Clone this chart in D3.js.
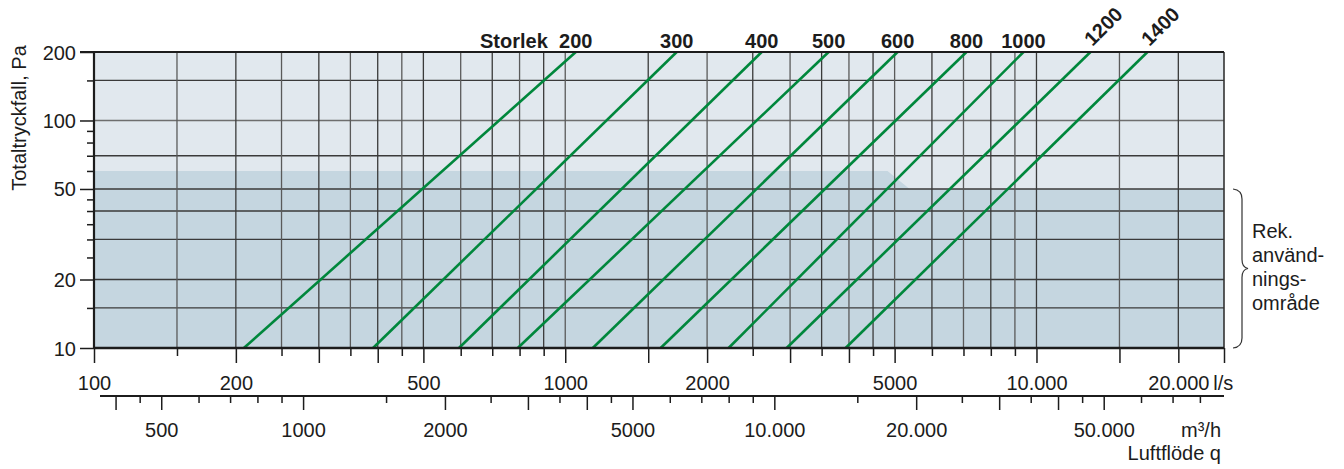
<!DOCTYPE html>
<html>
<head>
<meta charset="utf-8">
<script src="https://cdn.jsdelivr.net/npm/d3@7"></script>
<style>
  html, body { margin: 0; padding: 0; background: #fff; }
  svg { display: block; font-family: "Liberation Sans", Arial, Helvetica, sans-serif; }
  .tick text { font-family: "Liberation Sans", Arial, Helvetica, sans-serif; }
</style>
</head>
<body>
<svg id="chart" width="1344" height="469"></svg>
<script>
// ---- data ----
const sizes = [200, 300, 400, 500, 600, 800, 1000, 1200, 1400];
const flowAt10Pa = [208, 391, 595, 793, 1144, 1594, 2222, 2950, 3935];      // l/s
const flowAt200Pa = [1053, 1724, 2612, 3622, 5073, 7104, 9385, 13020, 17200]; // l/s

const pressureLabelTicks = [200, 100, 50, 20, 10];
const pressureMinorTicks = [150, 90, 80, 70, 60, 45, 40, 35, 30, 25, 15];
const pressureGrid = [150, 100, 70, 50, 40, 30, 20, 15];

const flowGrid = [150, 200, 250, 300, 350, 400, 450, 500, 600, 700, 800, 900, 1000,
  1500, 2000, 2500, 3000, 3500, 4000, 4500, 5000, 6000, 7000, 8000, 9000, 10000, 15000, 20000];
const lsMajorTicks = [100, 200, 300, 400, 500, 1000, 1500, 2000, 3000, 4000, 5000, 10000, 15000, 20000, 25000];
const lsMinorTicks = [150, 250, 350, 450, 600, 700, 800, 900, 2500, 3500, 4500, 6000, 7000, 8000, 9000];
const lsLabels = [100, 200, 500, 1000, 2000, 5000, 10000, 20000];

const m3hMajorTicks = [400, 500, 1000, 2000, 3000, 4000, 5000, 10000, 20000, 30000, 40000, 50000];
const m3hMinorTicks = [450, 600, 700, 800, 900, 1500, 2500, 3500, 4500, 6000, 7000, 8000, 9000,
  15000, 25000, 35000, 45000, 60000, 70000, 80000];
const m3hLabels = [500, 1000, 2000, 5000, 10000, 20000, 50000];

// recommended area boundary [flow l/s, pressure Pa]
const recommendedArea = [[100, 10], [100, 60], [4830, 60], [5380, 50], [25000, 50], [25000, 10]];
const recommendedText = ["Rek.", "använd-", "nings-", "område"];

// ---- scales ----
const x = d3.scaleLog().domain([100, 25000]).range([94, 1224]);
const y = d3.scaleLog().domain([10, 200]).range([348, 52]);
const xm = v => x(v / 3.6);
const [X0, X1] = x.range();
const [Y0, Y1] = y.range();

const fmt = v => v >= 10000 ? d3.format(",")(v).replace(/,/g, ".") : String(v);
const ink = "#1c1c1c";

const svg = d3.select("#chart");

// backgrounds
svg.append("rect").attr("x", X0).attr("y", Y1).attr("width", X1 - X0).attr("height", Y0 - Y1)
  .attr("fill", "#e1e8ee");
svg.append("path")
  .attr("d", d3.line().x(d => x(d[0])).y(d => y(d[1]))(recommendedArea) + "Z")
  .attr("fill", "#c5d6e0");

// grid
svg.append("g").selectAll("line").data(pressureGrid).join("line")
  .attr("x1", X0).attr("x2", X1).attr("y1", d => y(d)).attr("y2", d => y(d))
  .attr("stroke", d => d === 100 ? "#6e6e6e" : "#3a3a3a").attr("stroke-width", 1.3);
svg.append("g").selectAll("line").data(flowGrid).join("line")
  .attr("x1", d => x(d)).attr("x2", d => x(d)).attr("y1", Y1).attr("y2", Y0)
  .attr("stroke", (d, i) => i % 2 ? "#3a3a3a" : "#5a5a5a").attr("stroke-width", 1.3);

// size lines
svg.append("g").selectAll("line").data(sizes).join("line")
  .attr("x1", (d, i) => x(flowAt10Pa[i])).attr("y1", y(10))
  .attr("x2", (d, i) => x(flowAt200Pa[i])).attr("y2", y(200))
  .attr("stroke", "#00873c").attr("stroke-width", 2.6);

// frame
svg.append("line").attr("x1", X1).attr("x2", X1).attr("y1", Y1).attr("y2", Y0)
  .attr("stroke", "#333").attr("stroke-width", 1.6);
svg.append("line").attr("x1", X0 - 14).attr("x2", X1).attr("y1", Y1).attr("y2", Y1)
  .attr("stroke", ink).attr("stroke-width", 2.2);
svg.append("line").attr("x1", X0).attr("x2", X0).attr("y1", Y1).attr("y2", Y0)
  .attr("stroke", ink).attr("stroke-width", 2.2);

function styleAxis(g) {
  g.select(".domain").remove();
  g.selectAll(".tick line").attr("stroke", ink).attr("stroke-width", 1.5);
  g.selectAll(".tick text").attr("fill", ink).attr("font-size", 20);
}

// left axis
const gLeftMinor = svg.append("g").attr("transform", `translate(${X0},0)`)
  .call(d3.axisLeft(y).tickValues(pressureMinorTicks).tickSize(7).tickFormat(""));
styleAxis(gLeftMinor);
const gLeft = svg.append("g").attr("transform", `translate(${X0},0)`)
  .call(d3.axisLeft(y).tickValues(pressureLabelTicks).tickSize(14).tickPadding(4).tickFormat(d => String(d)));
styleAxis(gLeft);
gLeft.selectAll(".tick text").attr("x", -18).attr("dy", "0.35em");

// l/s axis
const gLsMinor = svg.append("g").attr("transform", `translate(0,${Y0})`)
  .call(d3.axisBottom(x).tickValues(lsMinorTicks).tickSize(8).tickFormat(""));
styleAxis(gLsMinor);
const gLs = svg.append("g").attr("transform", `translate(0,${Y0})`)
  .call(d3.axisBottom(x).tickValues(lsMajorTicks).tickSize(15)
    .tickFormat(d => lsLabels.includes(d) ? fmt(d) : ""));
styleAxis(gLs);
gLs.selectAll(".tick text").attr("y", 42).attr("dy", 0);
svg.append("line").attr("x1", X0).attr("x2", X1).attr("y1", Y0).attr("y2", Y0)
  .attr("stroke", ink).attr("stroke-width", 2.6);
svg.append("text").attr("x", x(20000) + 35).attr("y", Y0 + 42).attr("font-size", 20)
  .attr("fill", ink).text("l/s");

// m3/h axis
const M0 = 396;
svg.append("line").attr("x1", 100).attr("x2", X1).attr("y1", M0).attr("y2", M0)
  .attr("stroke", ink).attr("stroke-width", 1.8);
const xmScale = d3.scaleLog().domain([x.invert(100) * 3.6, 25000 * 3.6]).range([100, X1]);
const gMMinor = svg.append("g").attr("transform", `translate(0,${M0})`)
  .call(d3.axisBottom(xmScale).tickValues(m3hMinorTicks).tickSize(7).tickFormat(""));
styleAxis(gMMinor);
const gM = svg.append("g").attr("transform", `translate(0,${M0})`)
  .call(d3.axisBottom(xmScale).tickValues(m3hMajorTicks).tickSize(14)
    .tickFormat(d => m3hLabels.includes(d) ? fmt(d) : ""));
styleAxis(gM);
gM.selectAll(".tick text").attr("y", 41).attr("dy", 0);
svg.append("text").attr("x", 1221).attr("y", M0 + 41).attr("font-size", 20)
  .attr("text-anchor", "end").attr("fill", ink).text("m³/h");
svg.append("text").attr("x", 1221).attr("y", 460).attr("font-size", 20)
  .attr("text-anchor", "end").attr("fill", ink).text("Luftflöde q");

// y title
svg.append("text").attr("transform", "translate(26,118) rotate(-90)")
  .attr("text-anchor", "middle").attr("font-size", 20).attr("fill", ink)
  .text("Totaltryckfall, Pa");

// size labels
svg.append("text").attr("x", 480).attr("y", 48).attr("font-size", 20).attr("font-weight", "bold")
  .attr("fill", ink).text("Storlek");
svg.append("g").selectAll("text").data(sizes).join("text")
  .attr("font-size", 20).attr("font-weight", "bold").attr("fill", ink)
  .attr("text-anchor", d => d >= 1200 ? "start" : "middle")
  .attr("transform", (d, i) => {
    const px = x(flowAt200Pa[i]);
    return d >= 1200 ? `translate(${px + 2},47) rotate(-45)` : `translate(${px},48)`;
  })
  .text(d => d);

// bracket
const b0 = y(50), b1 = y(10), bm = (b0 + b1) / 2;
svg.append("path")
  .attr("d", `M1233,${b0} Q1242,${b0 + 1} 1242,${b0 + 10} L1242,${bm - 9} Q1242,${bm - 1} 1248,${bm}
              Q1242,${bm + 1} 1242,${bm + 9} L1242,${b1 - 10} Q1242,${b1 - 1} 1233,${b1}`)
  .attr("fill", "none").attr("stroke", "#333").attr("stroke-width", 1.2);
svg.append("g").selectAll("text").data(recommendedText).join("text")
  .attr("x", 1252).attr("y", (d, i) => 238 + i * 24).attr("font-size", 20).attr("fill", ink)
  .text(d => d);
</script>
</body>
</html>
